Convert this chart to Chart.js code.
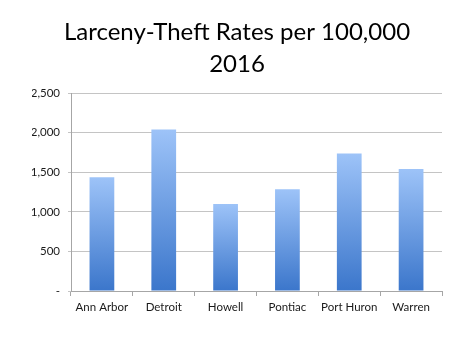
<!DOCTYPE html>
<html>
<head>
<meta charset="utf-8">
<script src="https://cdn.jsdelivr.net/npm/chart.js@4/dist/chart.umd.min.js"></script>
<style>
html,body{margin:0;padding:0;background:#fff;}
#wrap{width:474px;height:355px;position:relative;}
</style>
</head>
<body>
<div id="wrap"><canvas id="c" width="474" height="355"></canvas></div>
<script>
const categories = ["Ann Arbor", "Detroit", "Howell", "Pontiac", "Port Huron", "Warren"];
const rates = [1435, 2040, 1100, 1285, 1735, 1540];
const titleLines = ["Larceny-Theft Rates per 100,000", "2016"];
const yTicks = [0, 500, 1000, 1500, 2000, 2500];

function barGradient(ctx) {
  const c = ctx.chart;
  if (!c.chartArea || ctx.raw === undefined) return '#6b9fe4';
  const y = c.scales.y;
  const top = y.getPixelForValue(ctx.raw);
  const bottom = y.getPixelForValue(0);
  const g = c.ctx.createLinearGradient(0, top, 0, bottom);
  g.addColorStop(0, '#9dc3f8');
  g.addColorStop(1, '#3b76cb');
  return g;
}

new Chart(document.getElementById('c'), {
  type: 'bar',
  data: {
    labels: categories,
    datasets: [{
      data: rates,
      backgroundColor: barGradient,
      borderWidth: 0,
      barPercentage: 0.4,
      categoryPercentage: 1.0
    }]
  },
  options: {
    responsive: false,
    animation: false,
    layout: { padding: { left: 32, right: 32, top: 0, bottom: 0 } },
    plugins: {
      legend: { display: false },
      tooltip: { enabled: false },
      title: {
        display: true,
        text: titleLines,
        color: '#000',
        font: { family: 'Lato', size: 24, weight: 'normal', lineHeight: 1.3 },
        padding: { top: 17, bottom: 13.6 }
      }
    },
    scales: {
      x: {
        afterFit: s => { s.height = 64; },
        grid: { display: true, offset: true, drawOnChartArea: false, drawTicks: true, tickLength: 5, color: '#a6a6a6' },
        border: { display: true, color: '#a6a6a6', width: 1 },
        ticks: { color: '#1a1a1a', font: { family: 'Lato', size: 11.5 }, padding: 4, maxRotation: 0, minRotation: 0, autoSkip: false }
      },
      y: {
        min: 0, max: 2500,
        afterFit: s => { s.width = 39; },
        afterBuildTicks: s => { s.ticks = yTicks.map(v => ({ value: v })); },
        grid: { color: '#c4c4c4', tickLength: 3, drawTicks: true },
        border: { display: true, color: '#a6a6a6', width: 1 },
        ticks: {
          color: '#1a1a1a',
          font: { family: 'Lato', size: 11.5 },
          padding: 8,
          callback: v => v === 0 ? '-' : v.toLocaleString('en-US')
        }
      }
    }
  }
});
</script>
</body>
</html>
